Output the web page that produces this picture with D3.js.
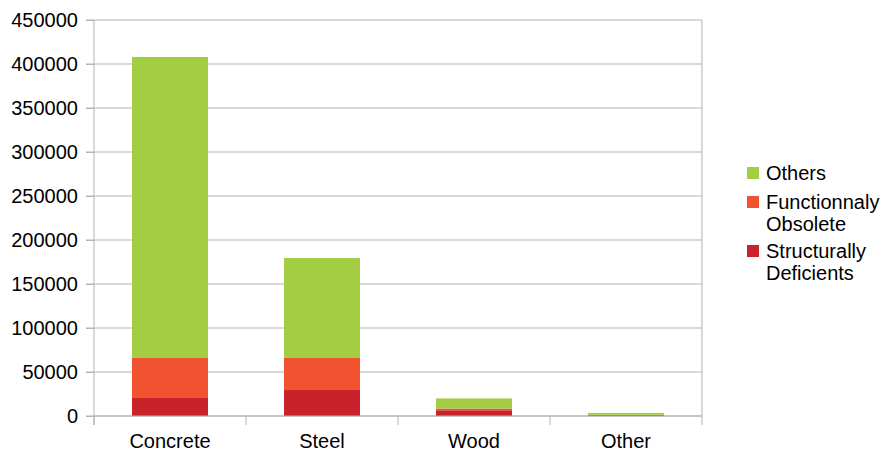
<!DOCTYPE html>
<html>
<head>
<meta charset="utf-8">
<title>Bridges by material</title>
<script src="https://cdn.jsdelivr.net/npm/d3@7"></script>
<style>
  body { margin: 0; background: #fff; }
  text { font-family: "Liberation Sans", Arial, sans-serif; fill: #000; }
</style>
</head>
<body>
<script>
// data
var materials = ["Concrete", "Steel", "Wood", "Other"];
var structurallyDeficients = [20500, 29500, 6500, 900];
var functionnalyObsolete = [45500, 36500, 2000, 400];
var others = [342000, 113500, 11500, 2200];
var yTicks = [0, 50000, 100000, 150000, 200000, 250000, 300000, 350000, 400000, 450000];

var legendLines = [["Others"], ["Functionnaly", "Obsolete"], ["Structurally", "Deficients"]];
var colors = ["#c9222a", "#f15230", "#a3cd42"];

var width = 887, height = 453;
var plotLeft = 94, plotRight = 702, plotTop = 20, plotBottom = 416;

var svg = d3.select("body").append("svg")
  .attr("width", width)
  .attr("height", height);

var x = d3.scaleBand().domain(materials).range([plotLeft, plotRight]).paddingInner(0.5).paddingOuter(0.25);
var y = d3.scaleLinear().domain([0, 450000]).range([plotBottom, plotTop]);

var rows = materials.map(function(m, i) {
  return { name: m, s0: structurallyDeficients[i], s1: functionnalyObsolete[i], s2: others[i] };
});
var stack = d3.stack().keys(["s0", "s1", "s2"])(rows);

// gridlines
svg.append("g").selectAll("line")
  .data(yTicks)
  .enter().append("line")
  .attr("x1", plotLeft - 8).attr("x2", plotRight)
  .attr("y1", function(d) { return y(d); })
  .attr("y2", function(d) { return y(d); })
  .attr("stroke", "#b3b3b3")
  .attr("stroke-width", 1);

// right border
svg.append("line")
  .attr("x1", plotRight).attr("x2", plotRight)
  .attr("y1", plotTop).attr("y2", plotBottom)
  .attr("stroke", "#b3b3b3");

// bars
svg.append("g").selectAll("g")
  .data(stack)
  .enter().append("g")
  .attr("fill", function(d, i) { return colors[i]; })
  .selectAll("rect")
  .data(function(d) { return d; })
  .enter().append("rect")
  .attr("x", function(d) { return x(d.data.name); })
  .attr("width", x.bandwidth())
  .attr("y", function(d) { return y(d[1]); })
  .attr("height", function(d) { return y(d[0]) - y(d[1]); });

// y axis
var yAxis = svg.append("g")
  .attr("transform", "translate(" + plotLeft + ",0)")
  .call(d3.axisLeft(y).tickValues(yTicks).tickSize(8).tickPadding(8).tickFormat(d3.format("d")));
yAxis.select(".domain").attr("d", "M0," + plotTop + "V" + (plotBottom + 9));
yAxis.selectAll("line, path").attr("stroke", "#b3b3b3");
yAxis.selectAll("text").style("font-size", "20px").attr("fill", "#000");

// x axis with category boundary ticks
var step = x.step();
var bounds = d3.range(materials.length + 1).map(function(i) { return plotLeft + i * step; });
svg.append("line")
  .attr("x1", plotLeft).attr("x2", plotRight)
  .attr("y1", plotBottom).attr("y2", plotBottom)
  .attr("stroke", "#b3b3b3");
svg.append("g").selectAll("line")
  .data(bounds)
  .enter().append("line")
  .attr("x1", function(d) { return d; })
  .attr("x2", function(d) { return d; })
  .attr("y1", plotBottom).attr("y2", plotBottom + 9)
  .attr("stroke", "#b3b3b3");
svg.append("g").selectAll("text")
  .data(materials)
  .enter().append("text")
  .attr("x", function(d) { return x(d) + x.bandwidth() / 2; })
  .attr("y", 448)
  .attr("text-anchor", "middle")
  .style("font-size", "20px")
  .text(function(d) { return d; });

// legend
var legendY = [173, 202, 251];
var legendColors = [colors[2], colors[1], colors[0]];
var lg = svg.append("g");
legendLines.forEach(function(lines, i) {
  lg.append("rect")
    .attr("x", 747).attr("y", legendY[i] - 6)
    .attr("width", 12).attr("height", 12)
    .attr("fill", legendColors[i]);
  lines.forEach(function(t, j) {
    lg.append("text")
      .attr("x", 766)
      .attr("y", legendY[i] + 7 + j * 22)
      .style("font-size", "20px")
      .text(t);
  });
});
</script>
</body>
</html>
